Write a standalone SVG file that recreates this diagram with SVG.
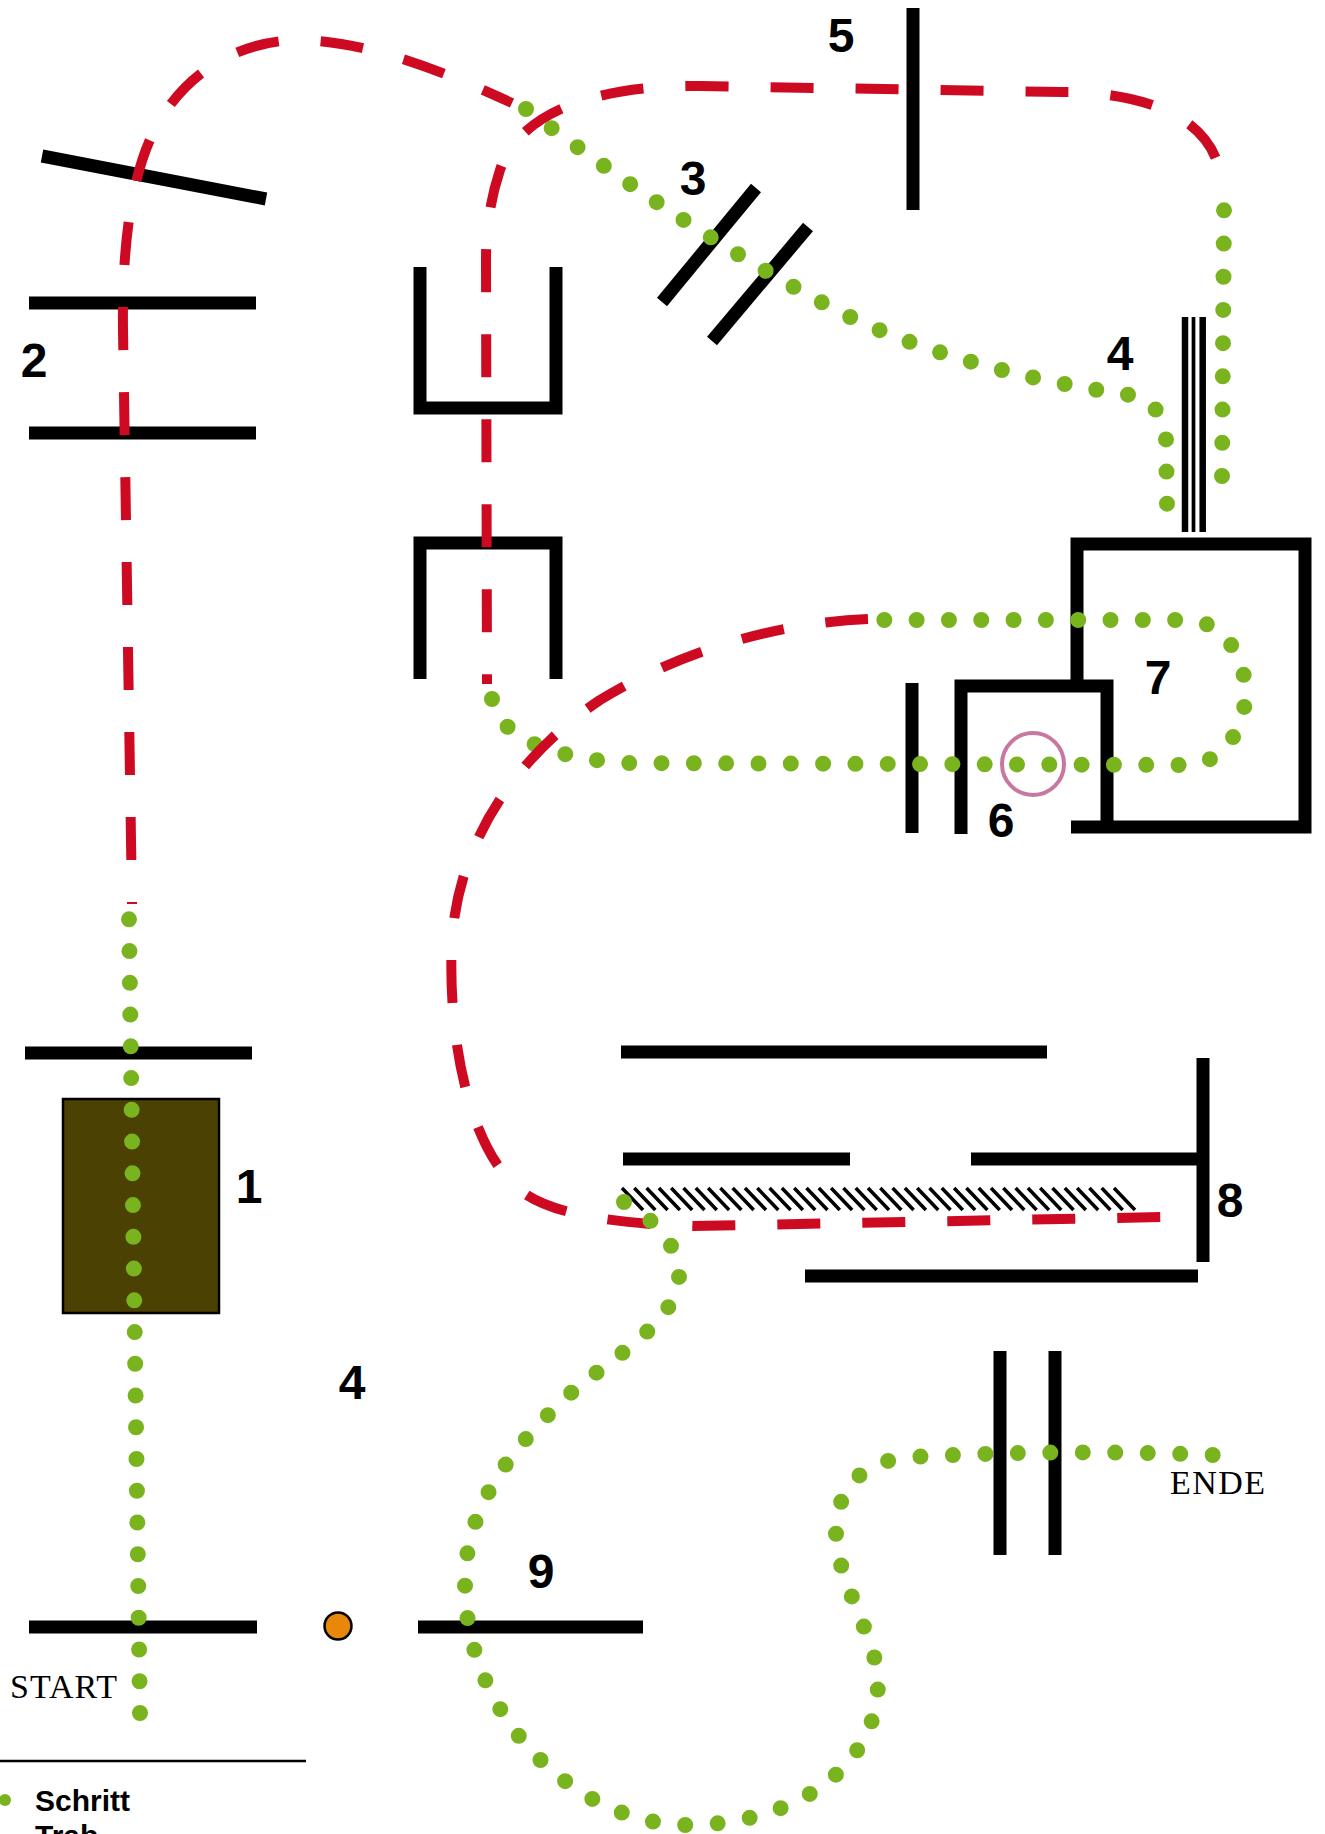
<svg xmlns="http://www.w3.org/2000/svg" width="1325" height="1834" viewBox="0 0 1325 1834">
<style>
.wall{stroke:#000;stroke-width:13;fill:none;stroke-linecap:butt;stroke-linejoin:miter}
.thin{stroke:#000;fill:none}
.trab{stroke:#cd0a22;stroke-width:10;fill:none;stroke-dasharray:43 42}
.schritt{stroke:#79b41f;stroke-width:16;fill:none;stroke-linecap:round;stroke-dasharray:0 1}
.num{font-family:"Liberation Sans",Arial,sans-serif;font-weight:bold;font-size:48px;text-anchor:middle;fill:#000}
.lbl{font-family:"Liberation Serif","Times New Roman",serif;font-size:34px;fill:#000}
.leg{font-family:"Liberation Sans",Arial,sans-serif;font-weight:bold;font-size:30px;fill:#000}
</style>
<rect width="1325" height="1834" fill="#fff"/>

<g id="comp-1">
  <line class="wall" x1="25" y1="1053" x2="252" y2="1053"/>
  <rect x="63" y="1099" width="156" height="214" fill="#4b4103" stroke="#000" stroke-width="2.5"/>
  <text class="num" x="249" y="1203">1</text>
</g>
<g id="comp-2">
  <line class="wall" x1="42" y1="156" x2="266" y2="199"/>
  <line class="wall" x1="29" y1="303" x2="256" y2="303"/>
  <line class="wall" x1="29" y1="433" x2="256" y2="433"/>
  <text class="num" x="34" y="377">2</text>
</g>
<g id="gate-u">
  <path class="wall" d="M420,267 V408 H556 V267"/>
  <path class="wall" d="M420,679 V543 H556 V679"/>
</g>
<g id="comp-3">
  <line class="wall" x1="756" y1="188" x2="662" y2="302"/>
  <line class="wall" x1="808" y1="227" x2="712" y2="341"/>
  <text class="num" x="693" y="195">3</text>
</g>
<g id="comp-4-top">
  <line class="thin" x1="1185" y1="317" x2="1185" y2="532" stroke-width="6.5"/>
  <line class="thin" x1="1193.5" y1="317" x2="1193.5" y2="532" stroke-width="3.7"/>
  <line class="thin" x1="1202.7" y1="317" x2="1202.7" y2="532" stroke-width="6.5"/>
  <text class="num" x="1120" y="370">4</text>
</g>
<g id="comp-5">
  <line class="wall" x1="913" y1="8" x2="913" y2="210"/>
  <text class="num" x="841" y="52">5</text>
</g>
<g id="comp-6">
  <line class="wall" x1="912" y1="683" x2="912" y2="833"/>
  <path class="wall" d="M961,834 V686 H1107 V827"/>
  <circle cx="1033" cy="764" r="31" fill="none" stroke="#c8789f" stroke-width="4"/>
  <text class="num" x="1001" y="837">6</text>
</g>
<g id="comp-7">
  <path class="wall" d="M1071,827 H1305 V544 H1077 V686"/>
  <text class="num" x="1158" y="694">7</text>
</g>
<g id="comp-8">
  <line class="wall" x1="621" y1="1052" x2="1047" y2="1052"/>
  <line class="wall" x1="623" y1="1159" x2="850" y2="1159"/>
  <line class="wall" x1="971" y1="1159" x2="1203" y2="1159"/>
  <line class="wall" x1="1203" y1="1058" x2="1203" y2="1262"/>
  <line class="wall" x1="805" y1="1276" x2="1198" y2="1276"/>
  <path class="thin" stroke-width="3.5" d="M622,1188 l21,22 M634.3,1188 l21,22 M646.6,1188 l21,22 M658.9,1188 l21,22 M671.2,1188 l21,22 M683.5,1188 l21,22 M695.8,1188 l21,22 M708.1,1188 l21,22 M720.4,1188 l21,22 M732.7,1188 l21,22 M745,1188 l21,22 M757.3,1188 l21,22 M769.6,1188 l21,22 M781.9,1188 l21,22 M794.2,1188 l21,22 M806.5,1188 l21,22 M818.8,1188 l21,22 M831.1,1188 l21,22 M843.4,1188 l21,22 M855.7,1188 l21,22 M868,1188 l21,22 M880.3,1188 l21,22 M892.6,1188 l21,22 M904.9,1188 l21,22 M917.2,1188 l21,22 M929.5,1188 l21,22 M941.8,1188 l21,22 M954.1,1188 l21,22 M966.4,1188 l21,22 M978.7,1188 l21,22 M991,1188 l21,22 M1003.3,1188 l21,22 M1015.6,1188 l21,22 M1027.9,1188 l21,22 M1040.2,1188 l21,22 M1052.5,1188 l21,22 M1064.8,1188 l21,22 M1077.1,1188 l21,22 M1089.4,1188 l21,22 M1101.7,1188 l21,22 M1114,1188 l21,22"/>
  <text class="num" x="1230" y="1217">8</text>
</g>
<g id="comp-4-bottom">
  <text class="num" x="352" y="1399">4</text>
</g>
<g id="start">
  <line class="wall" x1="29" y1="1627" x2="257" y2="1627"/>
  <text class="lbl" x="10" y="1698" textLength="107">START</text>
</g>
<g id="marker">
  <circle cx="338" cy="1626" r="13.5" fill="#e8870a" stroke="#000" stroke-width="2.5"/>
</g>
<g id="comp-9">
  <line class="wall" x1="418" y1="1627" x2="643" y2="1627"/>
  <text class="num" x="541" y="1588">9</text>
</g>
<g id="finish">
  <line class="wall" x1="1000" y1="1351" x2="1000" y2="1555"/>
  <line class="wall" x1="1055" y1="1351" x2="1055" y2="1555"/>
  <text class="lbl" x="1170" y="1494" textLength="95">ENDE</text>
</g>

<g id="connectors">
  <path class="schritt" pathLength="25.01" d="M140,1713 L129,919"/>
  <path class="trab" style="stroke-dashoffset:41" d="M132,904 L123,330 C122,250 130,170 160,120 C190,70 240,42 295,40 C360,40 430,65 512,103"/>
  <path class="schritt" pathLength="25.01" d="M526,109 C600,165 720,250 842,313 C940,362 1060,385 1130,395 C1155,400 1166,420 1166,440 L1167,504"/>
  <path class="schritt" pathLength="8.01" d="M1222,476 L1224,210"/>
  <path class="trab" style="stroke-dashoffset:50" d="M1222,192 C1222,110 1130,92 1063,92 L700,86 C600,85 520,110 500,170 C490,200 486,230 486,260 L487,684"/>
  <path class="schritt" pathLength="38.01" d="M492,699 C500,735 540,755 620,763 L1187,765 A58,72 0 0 0 1187,620 L884,620"/>
  <path class="trab" d="M868,619 C790,622 690,645 600,700 C540,740 460,820 452,940 C447,1040 470,1150 520,1190 C550,1215 620,1224 693,1226 L1164,1217"/>
  <path class="schritt" pathLength="52.01" d="M624,1202 C655,1220 679,1245 679,1276 C679,1320 610,1360 573,1391 C520,1440 465,1500 465,1583 C465,1720 580,1825 687,1825 C790,1825 878,1770 878,1682 C878,1640 836,1580 836,1533 C836,1490 860,1460 913,1457 Q1063,1449 1213,1455"/>
</g>

<g id="legend">
  <line class="thin" x1="0" y1="1761" x2="306" y2="1761" stroke-width="2.5"/>
  <circle cx="5" cy="1800" r="6" fill="#79b41f"/>
  <text class="leg" x="35" y="1811">Schritt</text>
  <text class="leg" x="35" y="1846">Trab</text>
</g>
</svg>
